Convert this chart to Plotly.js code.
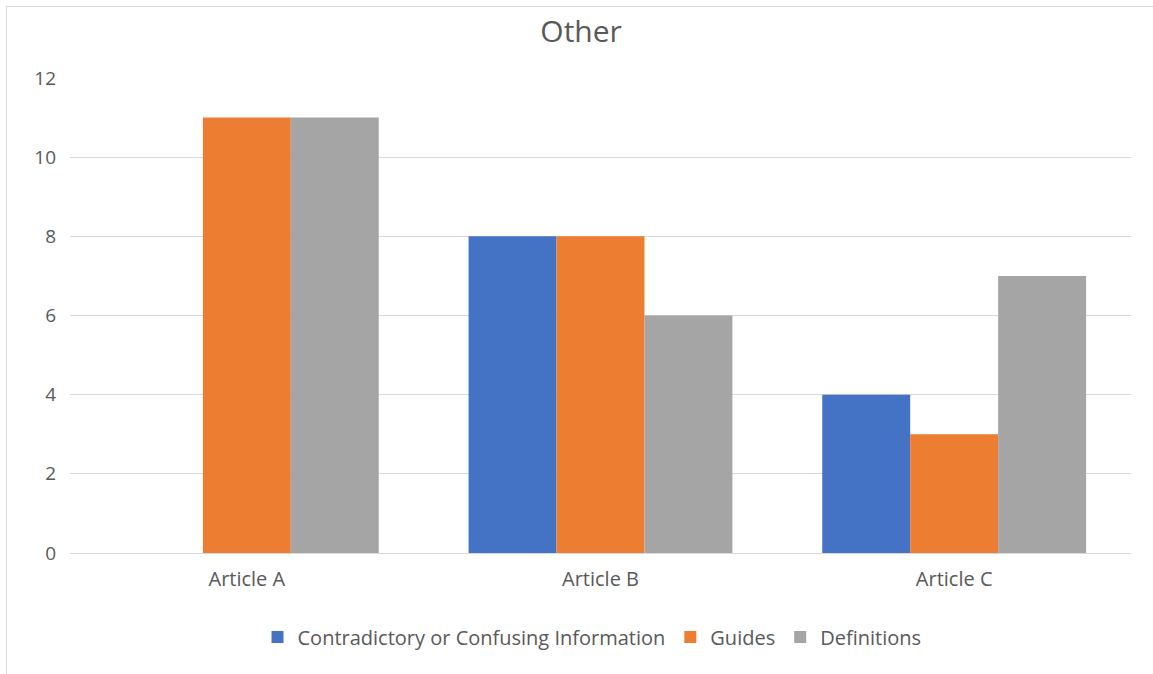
<!DOCTYPE html>
<html>
<head>
<meta charset="utf-8">
<script src="https://cdn.plot.ly/plotly-3.0.1.min.js"></script>
<style>
html,body{margin:0;padding:0;background:#fff;}
#chart{width:1153px;height:674px;position:absolute;left:0;top:0;}
#frame{position:absolute;left:6px;top:6px;width:1200px;height:700px;border:1px solid #d9d9d9;pointer-events:none;}
</style>
</head>
<body>
<div id="chart"></div>
<div id="frame"></div>
<script>
const categories = ["Article A", "Article B", "Article C"];
const seriesNames = ["Contradictory or Confusing Information", "Guides", "Definitions"];
const contradictory = [0, 8, 4];
const guides = [11, 8, 3];
const definitions = [11, 6, 7];
const colors = ["#4472C4", "#ED7D31", "#A5A5A5"];
const values = [contradictory, guides, definitions];

const traces = values.map((v, i) => ({
  type: "bar",
  x: categories,
  y: v,
  name: seriesNames[i],
  marker: {color: colors[i]},
  hoverinfo: "x+y+name"
}));

const fontFamily = "'Open Sans', 'Noto Sans', sans-serif";
const layout = {
  width: 1153, height: 674,
  margin: {l: 70, r: 22, t: 78, b: 121},
  paper_bgcolor: "#ffffff",
  plot_bgcolor: "#ffffff",
  barmode: "group",
  bargap: 0.254,
  bargroupgap: 0,
  font: {family: fontFamily, color: "#595959", size: 19},
  title: {text: "Other", font: {size: 30, color: "#595959", family: fontFamily}, x: 0.504, xanchor: "center", y: 0.954, yanchor: "middle"},
  xaxis: {
    showgrid: false, zeroline: false, showline: false, ticks: "",
    tickfont: {size: 20, color: "#595959"},
    ticklabelstandoff: 12
  },
  yaxis: {
    range: [0, 12], dtick: 2, tick0: 0,
    showgrid: true, gridcolor: "#d9d9d9", gridwidth: 1,
    zeroline: true, zerolinecolor: "#d9d9d9", zerolinewidth: 1,
    showline: false, ticks: "",
    tickfont: {size: 19, color: "#595959"},
    ticklabelstandoff: 13
  },
  showlegend: true,
  legend: {
    orientation: "h", x: 0.492, xanchor: "center", y: -0.177, yanchor: "middle",
    font: {size: 20, color: "#595959"},
    itemwidth: 30, traceorder: "normal"
  }
};

Plotly.newPlot("chart", traces, layout, {displayModeBar: false, staticPlot: true});
</script>
</body>
</html>
